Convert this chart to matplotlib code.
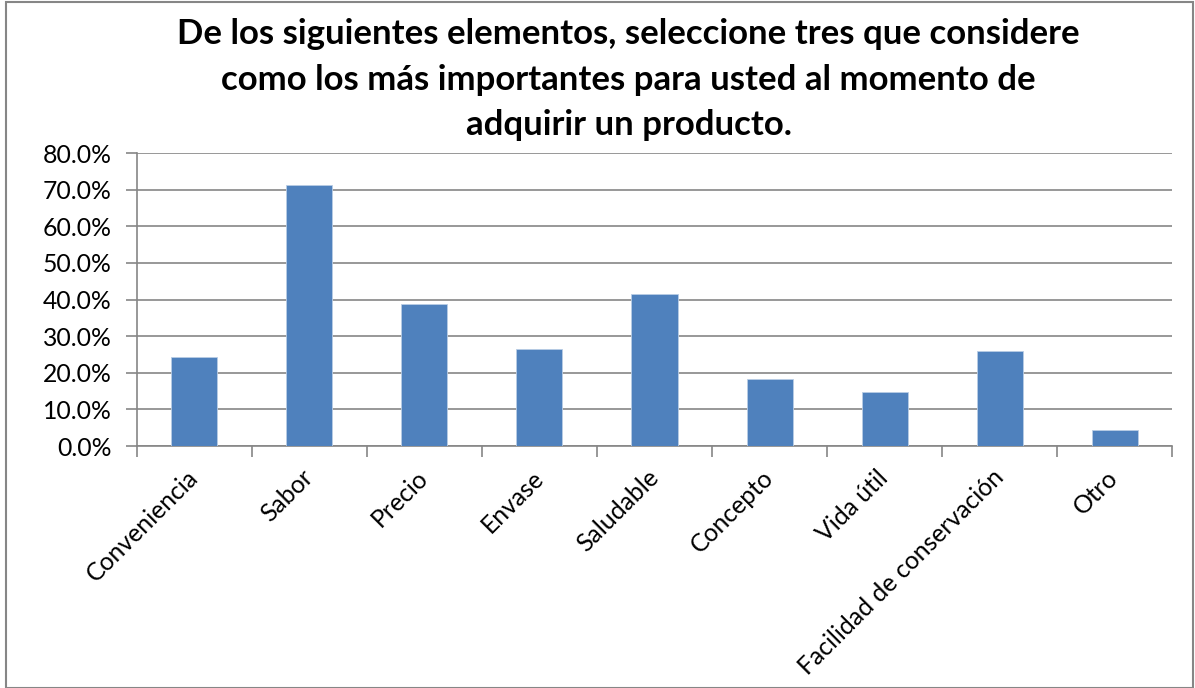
import numpy as np
import matplotlib.pyplot as plt
from matplotlib.patches import Rectangle
from matplotlib.ticker import FuncFormatter, MultipleLocator

plt.rcParams['font.family'] = ['Lato', 'DejaVu Sans']

categories = ["Conveniencia", "Sabor", "Precio", "Envase", "Saludable",
              "Concepto", "Vida útil", "Facilidad de conservación", "Otro"]
values = [24.4, 71.4, 38.9, 26.5, 41.4, 18.3, 14.8, 25.9, 4.3]
title = ("De los siguientes elementos, seleccione tres que considere\n"
         "como los más importantes para usted al momento de\n"
         "adquirir un producto.")

fig = plt.figure(figsize=(11.95, 6.88), dpi=100)
ax = fig.add_axes([0.1146, 0.3517, 0.8662, 0.4259])

x = np.arange(len(categories))
ax.bar(x, values, width=0.4, color="#4F81BD", edgecolor="#B9CDE5",
       linewidth=0.6, zorder=3)

ax.set_xlim(-0.5, len(categories) - 0.5)
ax.set_ylim(0, 80)
ax.yaxis.set_major_locator(MultipleLocator(10))
ax.yaxis.set_major_formatter(FuncFormatter(lambda v, p: f"{v:.1f}%"))
ax.grid(axis="y", color="#868686", linewidth=1.2, zorder=0)

# category boundaries carry the x ticks
ax.set_xticks(np.arange(len(categories) + 1) - 0.5)
ax.set_xticklabels([])
ax.set_xticks(x, minor=True)
ax.set_xticklabels(categories, minor=True, rotation=45, ha="right",
                   va="center", rotation_mode="anchor", fontsize=17.8)
ax.tick_params(axis="x", which="minor", length=0, pad=20)
ax.tick_params(axis="x", which="major", length=8, color="#868686", width=1.2)
ax.tick_params(axis="y", length=8, color="#868686", width=1.2,
               labelsize=17.8, pad=10)

for side in ["top", "right"]:
    ax.spines[side].set_visible(False)
for side in ["left", "bottom"]:
    ax.spines[side].set_color("#868686")
    ax.spines[side].set_linewidth(1.2)

fig.text(0.526, 0.884, title, ha="center", va="center", fontsize=25,
         fontweight="bold", linespacing=1.52)

fig.patches.append(Rectangle((0.005, 0.0), 0.993, 0.997, transform=fig.transFigure,
                             fill=False, edgecolor="#868686", linewidth=1.5))

fig.savefig("out.png", dpi=100)
